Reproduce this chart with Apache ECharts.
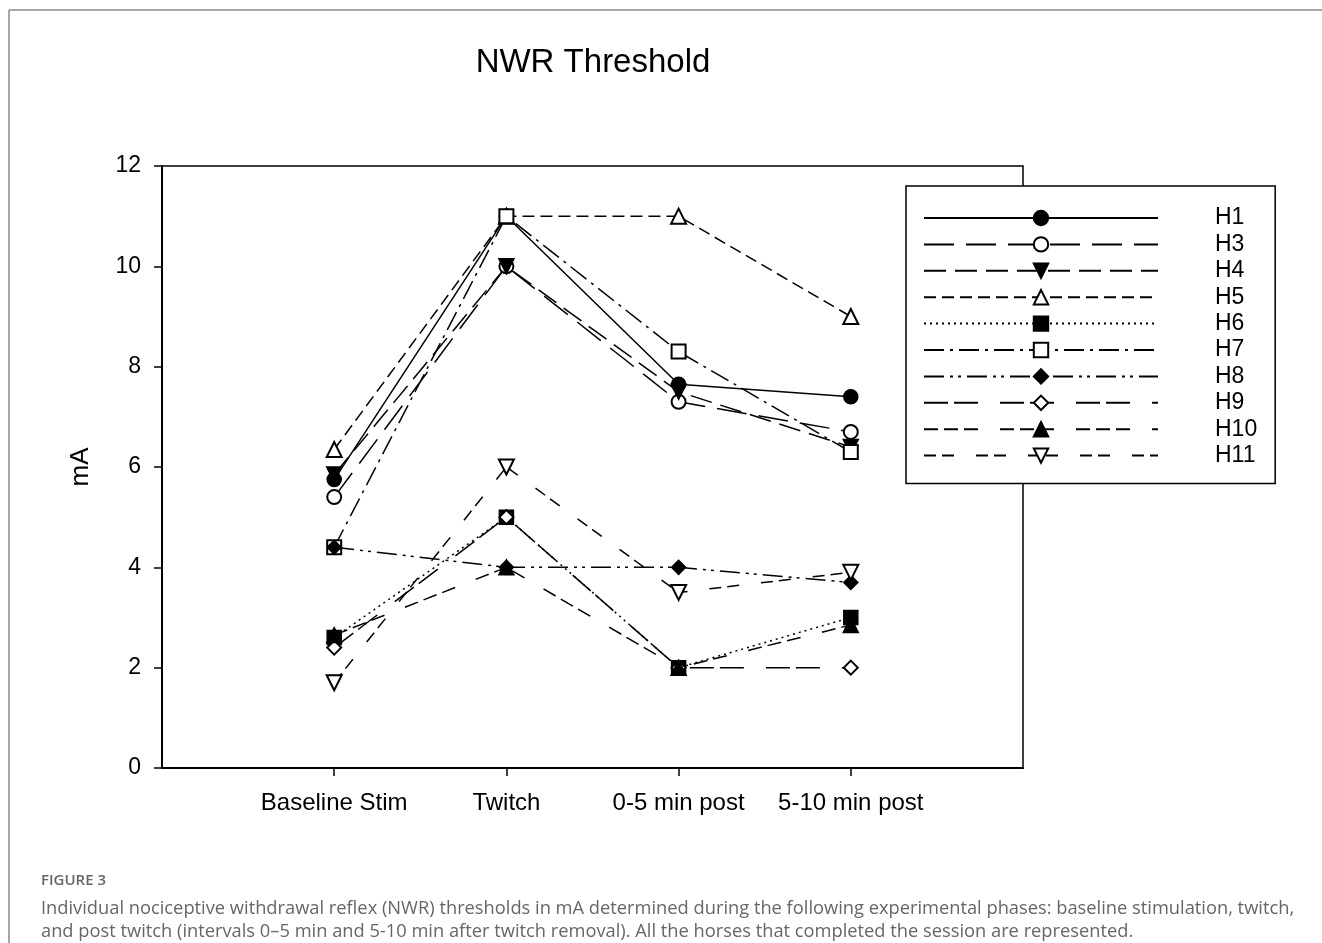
<!DOCTYPE html>
<html>
<head>
<meta charset="utf-8">
<script src="https://cdn.jsdelivr.net/npm/echarts@6/dist/echarts.min.js"></script>
<style>
  html, body { margin: 0; padding: 0; background: #fff; }
  #chart { width: 1322px; height: 943px; }
</style>
</head>
<body>
<div id="chart"></div>
<script>
// ---- Data ----
const categories = ['Baseline Stim', 'Twitch', '0-5 min post', '5-10 min post'];
const yTicks = [0, 2, 4, 6, 8, 10, 12];
const seriesNames = ['H1', 'H3', 'H4', 'H5', 'H6', 'H7', 'H8', 'H9', 'H10', 'H11'];
const H1  = [5.75, 11, 7.65, 7.4];
const H3  = [5.4, 10, 7.3, 6.7];
const H4  = [5.85, 10, 7.5, 6.4];
const H5  = [6.35, 11, 11, 9];
const H6  = [2.6, 5, 2, 3];
const H7  = [4.4, 11, 8.3, 6.3];
const H8  = [4.4, 4, 4, 3.7];
const H9  = [2.4, 5, 2, 2];
const H10 = [2.65, 4, 2, 2.85];
const H11 = [1.7, 6, 3.5, 3.9];
const seriesValues = [H1, H3, H4, H5, H6, H7, H8, H9, H10, H11];

// ---- Styles ----
const styles = {
  H1:  { symbol: 'circle', rotate: 0, dash: 'solid' },
  H3:  { symbol: 'emptyCircle', rotate: 0, dash: [30, 12] },
  H4:  { symbol: 'triangle', rotate: 180, dash: [22, 9] },
  H5:  { symbol: 'emptyTriangle', rotate: 0, dash: [12, 6] },
  H6:  { symbol: 'rect', rotate: 0, dash: [2, 4] },
  H7:  { symbol: 'emptyRect', rotate: 0, dash: [20, 6, 3, 6] },
  H8:  { symbol: 'diamond', rotate: 0, dash: [20, 6, 3, 5, 3, 6] },
  H9:  { symbol: 'emptyDiamond', rotate: 0, dash: [24, 6, 24, 22] },
  H10: { symbol: 'triangle', rotate: 0, dash: [14, 6, 14, 6, 14, 22] },
  H11: { symbol: 'emptyTriangle', rotate: 180, dash: [12, 6, 12, 22] }
};

const FONT = 'Liberation Sans, Arial, sans-serif';
const chart = echarts.init(document.getElementById('chart'), null, { renderer: 'canvas' });

const series = seriesNames.map((name, si) => {
  const st = styles[name];
  const isTri = st.symbol.indexOf('riangle') > -1;
  return {
    name: name,
    type: 'line',
    data: seriesValues[si].map((v, i) => [i + 1, v]),
    symbol: st.symbol,
    symbolRotate: st.rotate,
    symbolSize: isTri ? 15 : 14,
    showAllSymbol: true,
    lineStyle: { color: '#000', width: 1.5, type: st.dash },
    itemStyle: { color: '#000', borderColor: '#000', borderWidth: 1.5 },
    emphasis: { disabled: true },
    z: 2
  };
});

const option = {
  animation: false,
  backgroundColor: '#fff',
  grid: {
    left: 162, top: 166, right: 299, bottom: 175,
    show: true, borderColor: '#000', borderWidth: 1.5, backgroundColor: 'transparent'
  },
  xAxis: {
    type: 'value', min: 0, max: 5, interval: 1,
    axisLine: { show: true, lineStyle: { color: '#000', width: 2 } },
    axisTick: { show: true, length: 8, customValues: [1, 2, 3, 4], lineStyle: { color: '#000', width: 1.5 } },
    axisLabel: {
      customValues: [1, 2, 3, 4],
      formatter: v => categories[Math.round(v) - 1] || '',
      color: '#000', fontFamily: FONT, fontSize: 24, margin: 23
    },
    splitLine: { show: false }
  },
  yAxis: {
    type: 'value', min: yTicks[0], max: yTicks[yTicks.length - 1], interval: 2,
    name: 'mA', nameLocation: 'middle', nameGap: 68, nameRotate: 90,
    nameTextStyle: { color: '#000', fontFamily: FONT, fontSize: 26 },
    axisLine: { show: true, lineStyle: { color: '#000', width: 2 } },
    axisTick: { show: true, length: 8, lineStyle: { color: '#000', width: 1.5 } },
    axisLabel: { color: '#000', fontFamily: FONT, fontSize: 23, margin: 21 },
    splitLine: { show: false }
  },
  legend: {
    orient: 'vertical',
    left: 906, top: 186,
    padding: [20.5, 18, 16.5, 17],
    itemWidth: 234, itemHeight: 18, itemGap: 3.4,
    borderColor: '#000', borderWidth: 1.5,
    backgroundColor: '#fff',
    data: seriesNames,
    textStyle: { color: '#000', fontFamily: FONT, fontSize: 23, padding: [0, 0, 0, 52] },
    selectedMode: false
  },
  graphic: [
    { type: 'line', shape: { x1: 9, y1: 10, x2: 1322, y2: 10 }, style: { stroke: '#888', lineWidth: 1.5 } },
    { type: 'line', shape: { x1: 9, y1: 10, x2: 9, y2: 943 }, style: { stroke: '#888', lineWidth: 1.5 } },
    { type: 'text', x: 593, y: 63, style: { text: 'NWR Threshold', fontFamily: FONT, fontSize: 33, fill: '#000', textAlign: 'center', textVerticalAlign: 'middle' } },
    { type: 'text', x: 41, y: 881, style: { text: 'FIGURE 3', fontFamily: 'Open Sans, sans-serif', fontWeight: 600, fontSize: 15, fill: '#666', textAlign: 'left', textVerticalAlign: 'middle' } },
    { type: 'text', x: 41, y: 909, style: { text: 'Individual nociceptive withdrawal reflex (NWR) thresholds in mA determined during the following experimental phases: baseline stimulation, twitch,', fontFamily: 'Open Sans, sans-serif', fontSize: 18.3, fill: '#666', textAlign: 'left', textVerticalAlign: 'middle' } },
    { type: 'text', x: 41, y: 932, style: { text: 'and post twitch (intervals 0\u20135 min and 5-10 min after twitch removal). All the horses that completed the session are represented.', fontFamily: 'Open Sans, sans-serif', fontSize: 18.3, fill: '#666', textAlign: 'left', textVerticalAlign: 'middle' } }
  ],
  series: series
};
chart.setOption(option);
</script>
</body>
</html>
